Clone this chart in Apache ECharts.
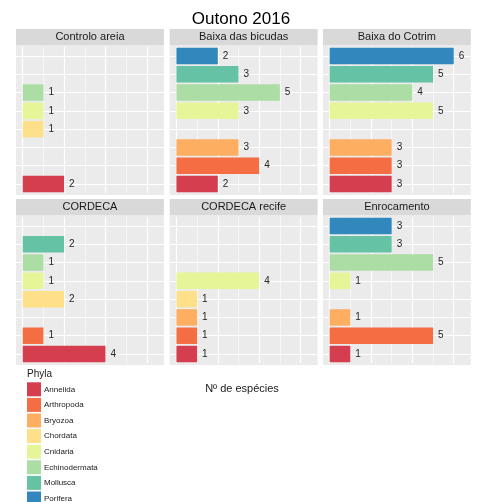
<!DOCTYPE html>
<html><head><meta charset="utf-8">
<script src="https://cdn.jsdelivr.net/npm/echarts@6/dist/echarts.min.js"></script>
<style>html,body{margin:0;padding:0;background:#fff}#c{width:478px;height:502px}</style>
</head><body><div id="c"></div>
<script>
// ---- data ----
const phyla = ['Annelida','Arthropoda','Bryozoa','Chordata','Cnidaria','Echinodermata','Mollusca','Porifera'];
const phylaColors = ['#D53E4F','#F46D43','#FDAE61','#FEE08B','#E6F598','#ABDDA4','#66C2A5','#3288BD'];
const sites = ['Controlo areia','Baixa das bicudas','Baixa do Cotrim','CORDECA','CORDECA recife','Enrocamento'];
const controloAreia = [2,null,null,1,1,1,null,null];
const baixaBicudas  = [2,4,3,null,3,5,3,2];
const baixaCotrim   = [3,3,3,null,5,4,5,6];
const cordeca       = [4,1,null,2,1,1,2,null];
const cordecaRecife = [1,1,1,1,4,null,null,null];
const enrocamento   = [1,5,1,null,1,5,3,3];
const siteValues = [controloAreia, baixaBicudas, baixaCotrim, cordeca, cordecaRecife, enrocamento];
const majorTicks = [0,2,4,6];
const minorTicks = [1,3,5];
const titleText = 'Outono 2016';
const xTitle = 'Nº de espécies';
const legendTitle = 'Phyla';

// ---- layout ----
const FONT = '"Liberation Sans", Arial, sans-serif';
const colLeft = [16, 169.7, 322.9];
const panelW = 147.9;
const stripTop = [29, 199];
const stripH = 16;
const bodyTop = [45, 215];
const bodyH = 150;
const inset = bodyH * 0.1 / 8.2;

const grids = [], xAxes = [], yAxes = [], series = [], graphics = [];
sites.forEach((site, p) => {
  const c = p % 3, r = Math.floor(p / 3);
  grids.push({left: colLeft[c], top: bodyTop[r] + inset, width: panelW, height: bodyH - 2*inset, containLabel: false});
  xAxes.push({type:'value', gridIndex:p, min:-0.325, max:6.825, show:false, splitLine:{show:false}});
  yAxes.push({type:'category', gridIndex:p, data:phyla, show:false, splitLine:{show:false}});
  graphics.push({type:'rect', z:0, shape:{x:colLeft[c], y:bodyTop[r], width:panelW, height:bodyH}, style:{fill:'#ebebeb'}});
  graphics.push({type:'rect', z:0, shape:{x:colLeft[c], y:stripTop[r], width:panelW, height:stripH}, style:{fill:'#d9d9d9'}});
  graphics.push({type:'text', z:1, x:colLeft[c] + panelW/2, y:stripTop[r] + stripH/2,
    style:{text:site, fill:'#1a1a1a', font:'11px ' + FONT, align:'center', verticalAlign:'middle', textAlign:'center', textVerticalAlign:'middle'}});
  const lines = [];
  majorTicks.forEach(v => lines.push({xAxis:v, lineStyle:{width:1.2}}));
  minorTicks.forEach(v => lines.push({xAxis:v, lineStyle:{width:0.6}}));
  phyla.forEach(ph => lines.push({yAxis:ph, lineStyle:{width:1.2}}));
  series.push({type:'scatter', xAxisIndex:p, yAxisIndex:p, data:[], z:1, silent:true,
    markLine:{silent:true, z:1, symbol:['none','none'], label:{show:false}, animation:false,
      lineStyle:{color:'#ffffff', type:'solid'}, data:lines}});
  const vals = siteValues[p];
  phyla.forEach((ph, k) => {
    series.push({type:'bar', name:ph, xAxisIndex:p, yAxisIndex:p, stack:'s'+p, z:3,
      barCategoryGap:'10%', itemStyle:{color:phylaColors[k]},
      label:{show:true, position:'right', distance:5, color:'#262626', fontSize:10, fontFamily:FONT},
      data: phyla.map((_, i) => i === k ? vals[i] : null)});
  });
});

graphics.push({type:'text', x:241, y:19, style:{text:titleText, fill:'#000', font:'17px ' + FONT, align:'center', verticalAlign:'middle', textAlign:'center', textVerticalAlign:'middle'}});
graphics.push({type:'text', x:242, y:389, style:{text:xTitle, fill:'#1a1a1a', font:'11px ' + FONT, align:'center', verticalAlign:'middle', textAlign:'center', textVerticalAlign:'middle'}});
graphics.push({type:'text', x:27, y:374, style:{text:legendTitle, fill:'#1a1a1a', font:'10px ' + FONT, align:'left', verticalAlign:'middle', textAlign:'left', textVerticalAlign:'middle'}});

const chart = echarts.init(document.getElementById('c'), null, {renderer:'canvas'});
chart.setOption({
  animation:false,
  grid:grids, xAxis:xAxes, yAxis:yAxes, series:series, graphic:graphics,
  legend:{orient:'vertical', left:27, top:382.3, height:200, padding:0, itemWidth:14, itemHeight:14, itemGap:1.6, icon:'rect',
    selectedMode:false, data:phyla, textStyle:{fontSize:8, color:'#1a1a1a', fontFamily:FONT, padding:[0,0,0,-2]}}
});
</script></body></html>
